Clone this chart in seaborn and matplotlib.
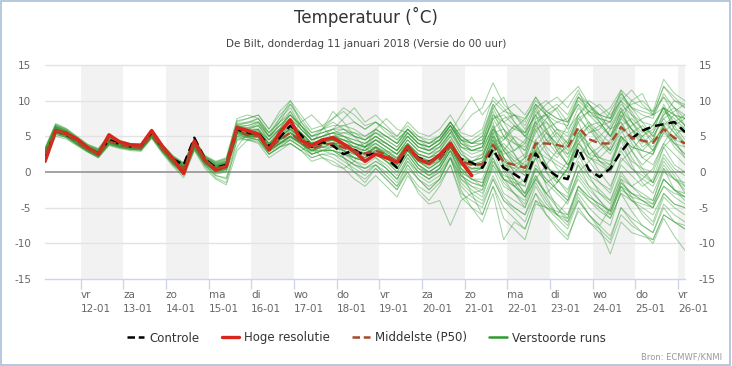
import matplotlib
matplotlib.use("Agg")
import matplotlib.pyplot as plt
from matplotlib.lines import Line2D
from matplotlib.patches import Rectangle
import pandas as pd
import seaborn as sns

# tijden in uren sinds 11-01 00 uur, 6-uurlijkse stappen
uren = [4 + 6 * k for k in range(61)]

dagen = ["vr", "za", "zo", "ma", "di", "wo", "do", "vr", "za", "zo", "ma", "di", "wo", "do", "vr"]
datums = ["12-01", "13-01", "14-01", "15-01", "16-01", "17-01", "18-01", "19-01",
          "20-01", "21-01", "22-01", "23-01", "24-01", "25-01", "26-01"]

# Hoge resolutie (10 dagen)
hres = [1.5, 5.8, 5.4, 4.6, 3.4, 2.5, 5.2, 4.2, 3.8, 3.7, 5.8, 3.6, 1.8, -0.2, 4.3, 1.6, 0.3, 0.8,
        6.2, 5.8, 5.3, 3.1, 5.5, 7.3, 4.4, 3.7, 4.5, 4.8, 3.9, 2.9, 1.5, 2.5, 2.0, 1.4, 3.6, 1.8,
        1.2, 2.4, 4.0, 1.5, -0.5]

controle = [2.0, 5.8, 5.2, 4.4, 3.3, 2.6, 4.5, 3.9, 3.6, 3.6, 5.5, 3.4, 1.8, 1.0, 4.8, 1.8, 0.6, 1.0,
            6.0, 5.4, 5.5, 3.6, 4.8, 6.5, 5.2, 3.5, 4.2, 3.7, 2.5, 3.1, 2.3, 2.6, 2.0, 0.6, 3.4, 2.0,
            1.4, 2.2, 3.8, 1.8, 1.3, 0.6, 3.2, 0.6, -0.3, -1.3, 2.6, 0.5, -0.6, -1.0, 3.3, 0.3,
            -0.7, 0.5, 2.8, 4.7, 5.8, 6.4, 6.7, 7.0, 5.6]

p50 = [2.5, 5.8, 5.3, 4.2, 3.2, 2.5, 4.3, 3.8, 3.5, 3.4, 5.2, 3.2, 1.5, 0.5, 3.8, 1.6, 0.5, 0.8,
       5.8, 5.2, 5.0, 3.2, 4.5, 5.5, 4.2, 3.2, 3.8, 4.0, 3.4, 2.8, 2.6, 3.0, 2.4, 1.5, 3.4, 1.8,
       1.3, 1.8, 3.6, 1.5, 1.0, 1.1, 3.8, 1.4, 1.0, 0.6, 4.0, 4.0, 3.8, 3.4, 6.3, 4.6, 4.0, 4.0,
       6.3, 4.8, 4.4, 4.1, 6.0, 4.8, 4.0]

# verstoorde runs
r01 = [2.8, 6.2, 5.6, 4.5, 3.4, 2.8, 4.6, 4.0, 3.6, 3.5, 5.4, 3.4, 1.8, 0.6, 4.0, 1.9, 0.8, 1.2,
       6.0, 5.6, 5.5, 3.8, 5.0, 6.2, 4.8, 3.5, 4.2, 4.5, 3.8, 3.0, 2.7, 3.4, 2.8, 1.9, 3.9, 2.2, 1.6, 2.4, 4.2, 1.9, 1.4,
       2.5, 5.5, 1.0, 0.5, 2.0, 7.5, 8.0, 5.0, 3.0, 6.0, 2.5, 3.5, 6.0, 9.0, 5.0, 2.0, 1.0, 4.0, 6.5, 7.5]
r02 = [2.2, 5.5, 5.0, 4.0, 3.0, 2.2, 4.0, 3.6, 3.3, 3.2, 5.0, 3.0, 1.2, 0.2, 3.5, 1.2, 0.0, 0.4,
       5.5, 6.0, 6.5, 4.5, 6.0, 8.5, 6.0, 4.5, 5.0, 5.5, 4.0, 3.0, 2.0, 3.5, 2.0, 0.5, 3.0, 1.0, -0.5, 0.5, 3.0, 0.0, -1.0,
       -1.5, 2.0, -1.0, -2.0, -3.5, 0.5, -1.0, -2.5, -4.0, 0.0, -2.0, -3.0, -4.0, -0.5, -2.0, -3.5, -4.5, -1.0, -2.5, -3.5]
r03 = [3.0, 6.5, 5.8, 4.8, 3.6, 3.0, 5.0, 4.2, 3.8, 3.8, 5.6, 3.6, 2.0, 1.0, 4.4, 2.0, 1.2, 1.5,
       6.5, 6.0, 5.0, 3.5, 4.5, 5.5, 4.0, 3.0, 4.0, 5.0, 4.5, 3.5, 4.0, 5.0, 4.0, 3.0, 5.0, 3.5, 3.0, 4.0, 6.0, 3.5, 3.0,
       3.5, 6.0, 7.5, 8.0, 6.0, 9.0, 5.5, 4.0, 6.5, 10.5, 9.5, 7.0, 5.0, 7.5, 10.0, 11.0, 8.0, 9.0, 6.0, 5.5]
r04 = [1.8, 5.2, 4.9, 3.9, 2.9, 2.1, 3.8, 3.4, 3.2, 3.0, 4.8, 2.8, 1.0, -0.5, 3.2, 0.8, -0.8, -1.5,
       4.5, 5.0, 5.5, 3.0, 4.0, 5.0, 4.0, 3.0, 3.5, 3.0, 2.0, 1.0, 0.5, 1.5, 0.5, -1.0, 1.5, 0.0, -1.0, 0.0, 2.0, -0.5, -1.5,
       -2.0, 1.5, -0.5, -1.0, -2.0, 3.0, 2.0, 1.0, 0.0, 4.0, 2.5, 2.0, 1.5, 5.0, 3.5, 3.0, 2.5, 5.5, 4.0, 3.5]
r05 = [2.6, 6.0, 5.4, 4.4, 3.4, 2.6, 4.4, 3.9, 3.5, 3.4, 5.3, 3.3, 1.6, 0.6, 3.9, 1.7, 0.6, 1.0,
       6.2, 5.5, 5.8, 4.5, 7.0, 9.5, 7.0, 5.0, 5.5, 6.0, 5.0, 4.0, 3.5, 4.5, 3.5, 2.5, 4.5, 3.0, 2.5, 3.5, 5.5, 3.0, 2.0,
       2.5, 6.0, 4.5, 6.5, 5.0, 4.0, 1.0, -1.5, 0.5, 4.5, 6.5, 7.0, 5.0, 8.5, 6.0, 3.5, 4.5, 8.0, 9.0, 6.5]
r06 = [2.4, 5.9, 5.2, 4.1, 3.1, 2.4, 4.2, 3.7, 3.4, 3.3, 5.1, 3.1, 1.4, 0.4, 3.6, 1.5, 0.4, 0.7,
       5.6, 5.0, 4.5, 2.5, 3.5, 4.5, 3.5, 2.5, 3.0, 3.5, 3.0, 2.5, 2.0, 3.0, 2.5, 1.5, 3.5, 1.5, 1.0, 1.5, 3.5, 1.0, 0.0,
       0.5, 4.0, 1.5, 0.5, -0.5, 4.5, 6.0, 7.0, 7.5, 10.5, 8.5, 8.0, 7.5, 11.0, 9.0, 8.5, 8.0, 12.0, 10.0, 9.5]
r07 = [2.9, 6.3, 5.7, 4.6, 3.5, 2.9, 4.8, 4.1, 3.7, 3.6, 5.5, 3.5, 1.9, 0.9, 4.2, 1.8, 1.0, 1.3,
       6.4, 6.2, 6.8, 5.0, 7.5, 10.0, 7.0, 5.5, 6.0, 7.0, 6.0, 5.0, 4.5, 5.5, 4.5, 3.5, 5.5, 4.0, 3.5, 4.5, 6.5, 4.0, 3.5,
       4.0, 9.0, 10.5, 7.0, 5.0, 7.0, 3.5, 2.0, 4.0, 8.0, 10.0, 9.0, 7.5, 10.0, 7.0, 4.5, 3.0, 6.0, 4.0, 2.5]
r08 = [2.1, 5.6, 5.1, 4.0, 3.1, 2.3, 4.1, 3.6, 3.4, 3.3, 5.0, 3.0, 1.3, 0.0, 3.4, 1.0, -0.5, -1.0,
       3.5, 5.5, 6.0, 3.0, 4.0, 5.0, 4.0, 2.5, 3.0, 2.5, 1.5, 0.5, -0.5, 1.0, -0.5, -2.0, 1.0, -1.0, -2.5, -1.0, 2.0, -2.0, -3.5,
       -4.5, -1.0, -4.0, -5.5, -7.0, -3.0, -5.0, -6.5, -8.0, -4.0, -6.0, -7.5, -9.0, -5.0, -7.0, -8.5, -10.0, -6.5, -9.0, -11.0]
r09 = [3.2, 6.7, 6.0, 4.9, 3.8, 3.2, 5.1, 4.4, 4.0, 3.9, 5.8, 3.8, 2.2, 1.2, 4.6, 2.2, 1.4, 1.8,
       7.0, 7.5, 8.0, 6.0, 8.5, 10.0, 8.0, 6.0, 6.5, 7.5, 9.0, 8.0, 6.5, 7.0, 6.0, 5.0, 7.0, 5.5, 5.0, 6.0, 8.0, 5.5, 5.0,
       6.0, 10.5, 9.0, 7.0, 5.5, 8.0, 9.5, 10.5, 9.0, 11.5, 8.0, 6.5, 7.0, 10.0, 11.5, 9.5, 8.0, 12.0, 10.5, 9.0]
r10 = [2.3, 5.7, 5.2, 4.1, 3.2, 2.5, 4.2, 3.7, 3.4, 3.4, 5.1, 3.2, 1.5, 0.3, 3.7, 1.4, 0.2, 0.6,
       5.8, 5.0, 5.0, 3.0, 4.5, 5.5, 4.5, 3.5, 4.0, 4.0, 3.0, 2.0, 1.5, 2.5, 1.5, 0.0, 2.5, 0.5, -0.5, 0.5, 3.0, -0.5, -2.0,
       -3.0, 0.5, -3.0, -4.0, -5.0, -1.0, -3.0, -4.5, -6.0, -2.0, -4.0, -5.5, -6.5, -3.0, -4.0, -4.5, -5.0, -2.0, -3.0, -3.5]
r11 = [2.7, 6.1, 5.5, 4.3, 3.3, 2.7, 4.5, 3.9, 3.6, 3.5, 5.3, 3.3, 1.7, 0.7, 4.0, 1.8, 0.7, 1.1,
       6.5, 7.0, 7.5, 5.5, 7.0, 8.0, 6.5, 5.0, 5.5, 6.0, 7.5, 9.0, 7.0, 8.0, 6.5, 5.0, 6.5, 5.0, 4.0, 5.0, 7.0, 5.0, 4.0,
       4.5, 8.5, 5.0, 3.0, 4.0, 9.0, 10.0, 8.5, 6.0, 8.0, 5.5, 6.0, 8.5, 11.0, 9.0, 7.0, 5.0, 7.5, 8.5, 9.5]
r12 = [2.0, 5.4, 4.8, 3.8, 2.8, 2.0, 3.9, 3.4, 3.1, 3.1, 4.9, 2.9, 1.1, -0.2, 3.3, 1.1, -0.2, 0.2,
       5.0, 4.5, 4.0, 2.0, 3.0, 4.0, 3.0, 4.0, 6.0, 8.5, 7.0, 5.0, 3.5, 2.0, 0.5, -1.0, 2.0, 0.0, -1.0, 0.0, 2.5, -1.0, -2.5,
       -3.5, 1.0, -2.0, -3.0, -4.0, 0.5, -1.5, -3.0, -4.5, -0.5, -2.5, -4.0, -5.5, -2.0, -4.0, -5.0, -6.0, -3.0, -4.5, -5.0]
r13 = [2.5, 5.9, 5.4, 4.3, 3.3, 2.6, 4.4, 3.8, 3.5, 3.4, 5.2, 3.2, 1.5, 0.5, 3.8, 1.6, 0.5, 0.8,
       5.9, 5.3, 5.2, 3.5, 5.0, 6.5, 5.0, 4.0, 4.5, 5.0, 4.5, 3.5, 3.5, 4.0, 3.0, 2.0, 4.0, 2.5, 2.0, 2.5, 4.5, 2.0, 1.0,
       1.5, 5.0, 0.5, -2.0, -1.0, 3.5, 5.5, 4.0, 2.0, 5.0, 6.5, 5.0, 3.0, 6.0, 3.0, 1.0, 2.5, 6.5, 4.5, 2.0]
r14 = [3.4, 6.8, 6.1, 5.0, 3.9, 3.3, 5.2, 4.4, 4.0, 4.0, 5.9, 3.9, 2.3, 1.3, 4.7, 2.3, 1.5, 2.0,
       7.5, 8.0, 7.5, 5.0, 6.5, 7.5, 6.0, 4.5, 5.0, 5.5, 6.0, 5.5, 4.5, 6.0, 5.0, 4.0, 6.0, 4.5, 4.0, 5.0, 7.0, 4.5, 4.0,
       5.0, 9.5, 7.0, 6.0, 5.5, 9.5, 8.0, 7.0, 6.5, 10.0, 8.5, 7.5, 7.0, 10.5, 9.0, 8.0, 7.5, 11.0, 9.0, 8.0]
r15 = [1.6, 5.0, 4.6, 3.7, 2.8, 2.0, 3.7, 3.3, 3.0, 2.9, 4.7, 2.6, 0.8, -0.8, 3.0, 0.5, -1.0, -1.8,
       3.0, 4.5, 5.0, 2.5, 3.5, 4.0, 3.0, 1.5, 2.0, 1.5, 0.5, -1.0, -2.0, -0.5, -2.0, -3.5, -0.5, -2.5, -4.0, -2.0, 1.0, -3.5, -5.0,
       -6.0, -2.0, -5.0, -6.5, -8.0, -4.0, -6.0, -7.5, -9.0, -5.5, -7.0, -8.0, -9.5, -5.0, -6.5, -7.5, -8.5, -4.5, -6.0, -7.0]
r16 = [2.6, 6.1, 5.5, 4.4, 3.3, 2.6, 4.3, 3.9, 3.5, 3.4, 5.3, 3.3, 1.6, 0.6, 3.9, 1.7, 0.6, 0.9,
       6.0, 5.2, 5.0, 3.5, 4.5, 5.5, 4.5, 3.5, 4.0, 4.0, 4.0, 3.5, 3.0, 4.0, 3.0, 2.5, 4.0, 2.5, 2.0, 3.0, 5.0, 2.5, 1.5,
       2.0, 5.5, 6.0, 4.5, 2.0, 3.0, 0.0, -2.5, -4.0, -1.0, -3.0, -5.0, -6.5, -3.0, -5.5, -7.5, -8.5, -5.0, -7.0, -8.0]
r17 = [2.8, 6.2, 5.6, 4.5, 3.5, 2.8, 4.6, 4.0, 3.7, 3.6, 5.5, 3.4, 1.8, 0.8, 4.1, 1.9, 0.9, 1.2,
       6.2, 5.8, 6.0, 4.0, 5.5, 7.0, 5.5, 4.0, 4.5, 4.5, 3.5, 2.5, 2.0, 3.0, 2.0, 0.5, 3.0, 1.0, 0.0, 1.0, 3.5, 0.5, -0.5,
       0.0, 3.5, 4.5, 6.0, 7.5, 9.5, 8.0, 6.0, 5.0, 8.0, 9.5, 8.0, 6.0, 7.0, 4.5, 3.0, 4.5, 8.5, 7.5, 6.0]
r18 = [2.2, 5.6, 5.0, 4.0, 3.0, 2.3, 4.1, 3.6, 3.3, 3.2, 5.0, 3.0, 1.3, 0.1, 3.5, 1.3, 0.1, 0.4,
       5.3, 4.8, 4.5, 3.0, 4.0, 5.0, 4.0, 3.0, 3.5, 4.0, 3.5, 3.0, 2.5, 3.5, 2.5, 1.5, 3.5, 2.0, 1.5, 2.0, 4.0, 1.5, 0.5,
       0.5, 4.5, 1.5, -1.0, -3.0, -0.5, -3.5, -6.0, -4.0, 0.0, 1.5, 3.0, 4.5, 8.0, 6.0, 4.5, 3.5, 7.0, 5.5, 4.0]
r19 = [3.0, 6.4, 5.8, 4.7, 3.6, 3.0, 4.9, 4.2, 3.8, 3.7, 5.6, 3.6, 2.0, 1.0, 4.3, 2.0, 1.1, 1.5,
       6.6, 6.5, 7.0, 5.5, 7.5, 9.0, 6.5, 4.5, 5.0, 5.5, 5.0, 4.5, 4.0, 5.0, 4.0, 3.0, 5.0, 3.5, 3.0, 4.0, 6.5, 4.0, 3.0,
       3.5, 8.0, 6.0, 2.5, 0.0, 3.0, 4.5, 6.0, 4.0, 7.0, 3.5, 1.5, 0.5, 4.5, 1.0, -1.5, -3.0, 0.5, -2.5, -4.0]
r20 = [2.4, 5.8, 5.2, 4.2, 3.2, 2.4, 4.2, 3.7, 3.4, 3.3, 5.1, 3.1, 1.4, 0.4, 3.7, 1.5, 0.4, 0.7,
       5.7, 5.2, 5.3, 3.5, 5.0, 6.0, 5.0, 3.5, 4.0, 4.5, 4.0, 3.0, 2.5, 3.5, 2.5, 1.0, 3.0, 1.5, 0.5, 1.5, 4.0, 1.0, 0.0,
       0.5, 4.0, 2.5, 3.0, 4.5, 8.0, 6.0, 3.5, 1.0, 3.0, 0.5, -1.5, -3.0, 1.0, -0.5, -2.0, -1.0, 3.5, 5.0, 6.5]
r21 = [2.7, 6.0, 5.4, 4.4, 3.4, 2.7, 4.5, 3.9, 3.6, 3.5, 5.4, 3.4, 1.7, 0.7, 4.0, 1.8, 0.7, 1.0,
       6.2, 5.8, 5.5, 4.0, 6.0, 8.0, 6.0, 4.5, 5.0, 5.5, 5.5, 5.0, 4.5, 5.5, 4.5, 3.5, 5.5, 4.0, 3.5, 4.5, 6.5, 4.5, 4.5,
       5.5, 9.5, 7.0, 4.5, 3.0, 6.5, 8.5, 9.5, 8.0, 11.0, 9.5, 8.0, 9.0, 11.5, 8.0, 6.0, 5.5, 8.0, 10.0, 9.0]
r22 = [2.1, 5.5, 5.0, 3.9, 2.9, 2.2, 4.0, 3.5, 3.2, 3.1, 4.9, 2.9, 1.2, 0.0, 3.4, 1.2, 0.0, 0.3,
       5.0, 4.8, 5.0, 3.0, 4.0, 5.0, 7.0, 8.0, 6.5, 4.5, 2.0, 0.0, -1.5, 0.5, -1.0, -2.5, 0.5, -1.0, -2.5, -1.0, 2.0, -1.5, -3.0,
       -4.0, -0.5, -3.5, -5.0, -6.0, -2.0, -4.5, -6.0, -7.0, -3.0, -5.0, -6.5, -7.5, -2.5, -3.5, -4.0, -4.5, -1.0, -2.5, -3.0]
r23 = [2.9, 6.3, 5.7, 4.6, 3.5, 2.8, 4.7, 4.0, 3.7, 3.6, 5.5, 3.5, 1.8, 0.8, 4.1, 1.9, 0.9, 1.3,
       6.3, 6.0, 6.0, 4.5, 6.0, 7.5, 6.0, 4.5, 5.0, 6.0, 6.0, 5.0, 4.5, 5.5, 5.0, 4.0, 6.0, 4.5, 4.0, 5.0, 7.0, 4.5, 4.0,
       4.5, 8.0, 7.0, 8.0, 6.5, 9.5, 6.0, 3.0, 1.0, 2.5, -0.5, -3.0, -4.5, -1.0, -2.0, -1.0, 0.5, 4.0, 2.5, 1.0]
r24 = [2.5, 5.9, 5.3, 4.2, 3.2, 2.5, 4.3, 3.8, 3.5, 3.4, 5.2, 3.2, 1.5, 0.5, 3.8, 1.6, 0.5, 0.8,
       5.8, 5.2, 5.0, 3.2, 4.5, 5.5, 4.2, 3.2, 3.8, 4.0, 3.4, 2.8, 2.6, 3.0, 2.4, 1.5, 3.4, 1.8, 1.3, 1.8, 3.6, 1.5, 1.0,
       1.0, 3.5, 0.0, -2.0, -3.5, -1.0, 1.0, 3.0, 4.5, 7.5, 6.0, 4.0, 3.0, 6.5, 7.5, 6.0, 4.5, 6.0, 3.5, 2.0]
r25 = [3.1, 6.5, 5.9, 4.8, 3.7, 3.1, 5.0, 4.3, 3.9, 3.8, 5.7, 3.7, 2.1, 1.1, 4.5, 2.1, 1.3, 1.7,
       6.8, 7.0, 7.0, 5.0, 6.0, 6.5, 5.5, 4.0, 4.5, 5.0, 4.5, 4.0, 3.5, 4.5, 3.5, 2.5, 4.5, 3.0, 2.5, 3.5, 5.5, 6.0, 8.0,
       9.0, 12.5, 9.5, 8.0, 7.0, 10.5, 8.5, 7.5, 7.0, 10.5, 9.0, 8.0, 7.5, 11.5, 10.0, 9.0, 8.5, 13.0, 11.0, 10.0]
r26 = [2.3, 5.7, 5.1, 4.1, 3.1, 2.4, 4.1, 3.7, 3.4, 3.3, 5.1, 3.1, 1.4, 0.3, 3.6, 1.4, 0.3, 0.6,
       5.5, 5.0, 5.2, 3.5, 4.5, 5.0, 4.0, 3.0, 3.0, 3.0, 2.5, 2.0, 1.5, 2.5, 1.5, 0.5, 2.5, 0.5, -0.5, 0.5, 3.0, -0.5, -1.5,
       -2.0, 2.5, 3.0, 5.0, 4.0, 7.0, 5.5, 3.0, 1.0, 4.0, 5.5, 6.5, 5.0, 8.5, 7.0, 5.0, 3.0, 5.5, 7.0, 8.0]
r27 = [2.6, 6.0, 5.4, 4.3, 3.3, 2.6, 4.4, 3.8, 3.5, 3.5, 5.3, 3.3, 1.6, 0.6, 3.9, 1.7, 0.6, 0.9,
       6.1, 5.6, 5.8, 4.0, 5.5, 6.5, 5.0, 3.5, 4.0, 4.5, 4.5, 4.0, 3.5, 4.5, 3.5, 2.5, 4.5, 3.0, 2.5, 3.0, 5.0, 2.5, 1.5,
       2.0, 6.0, 3.0, 1.0, -0.5, 2.0, -2.0, -5.0, -7.0, -4.0, -6.0, -7.5, -5.0, -1.0, -3.5, -6.0, -7.5, -3.5, -5.0, -6.0]
r28 = [1.9, 5.3, 4.8, 3.8, 2.9, 2.1, 3.9, 3.5, 3.2, 3.1, 4.9, 2.8, 1.0, -0.3, 3.1, 0.9, -0.5, -0.8,
       4.5, 4.5, 4.5, 2.5, 3.5, 4.5, 3.5, 2.0, 2.5, 2.0, 1.0, 0.0, -1.0, 0.5, -1.0, -2.5, 0.0, -2.0, -3.0, -1.5, 1.0, -3.0, -4.0,
       -5.0, -1.0, -4.0, -5.0, -6.0, -3.0, -6.0, -8.0, -9.5, -5.0, -7.0, -8.5, -10.0, -6.0, -7.5, -8.5, -9.5, -6.0, -7.0, -8.0]
r29 = [2.8, 6.2, 5.6, 4.5, 3.4, 2.8, 4.6, 4.0, 3.6, 3.6, 5.4, 3.4, 1.8, 0.7, 4.0, 1.8, 0.8, 1.1,
       6.1, 5.5, 5.2, 3.5, 5.5, 7.0, 5.5, 4.0, 4.5, 5.0, 4.0, 3.0, 2.5, 3.5, 2.5, 1.0, 3.5, 1.5, 0.5, 1.5, 4.0, 0.5, -1.0,
       -2.0, 3.0, -1.0, -3.0, -5.0, -1.5, -4.0, -6.0, -7.5, -3.5, -6.0, -8.0, -11.5, -7.0, -8.5, -9.0, -9.5, -6.0, -7.0, -7.5]
r30 = [2.4, 5.8, 5.3, 4.2, 3.2, 2.5, 4.3, 3.8, 3.4, 3.3, 5.2, 3.2, 1.5, 0.4, 3.8, 1.5, 0.5, 0.8,
       5.8, 5.3, 5.3, 3.5, 5.0, 6.0, 4.5, 3.5, 4.0, 4.0, 3.5, 3.0, 2.5, 3.5, 2.5, 1.5, 3.5, 2.0, 1.5, 2.0, 4.0, 0.0, -3.0,
       -6.0, -2.0, -6.5, -8.0, -9.5, -4.5, -5.0, -5.5, -6.0, -2.0, -3.5, -4.5, -5.5, -1.5, -3.0, -4.0, -5.0, -2.0, -3.5, -4.5]
r31 = [2.7, 6.1, 5.5, 4.4, 3.3, 2.7, 4.5, 3.9, 3.6, 3.5, 5.3, 3.3, 1.7, 0.6, 4.0, 1.7, 0.7, 1.0,
       6.0, 5.5, 5.5, 4.0, 5.0, 6.0, 5.0, 4.0, 4.5, 5.0, 5.0, 4.5, 4.0, 5.0, 4.0, 3.0, 5.0, 3.5, 3.0, 3.5, 5.5, 8.0, 10.5,
       8.0, 10.0, 8.5, 8.0, 7.5, 10.0, 8.5, 7.5, 7.0, 9.5, 8.0, 7.5, 7.0, 9.5, 8.0, 7.0, 6.5, 9.0, 8.0, 7.5]
r32 = [2.2, 5.6, 5.1, 4.0, 3.0, 2.3, 4.1, 3.6, 3.3, 3.2, 5.0, 3.0, 1.3, 0.2, 3.5, 1.3, 0.1, 0.5,
       5.4, 5.0, 5.0, 3.0, 4.0, 4.5, 3.5, 2.5, 3.0, 3.0, 2.5, 2.0, 1.5, 2.5, 1.5, 0.0, 2.5, 0.5, 0.0, 1.0, 3.5, 1.5, 1.0,
       1.5, 5.0, 2.0, 0.0, 1.5, 6.0, 7.0, 5.5, 3.5, 5.5, 2.5, 0.0, -2.0, 1.5, 3.0, 5.0, 6.0, 9.0, 8.0, 6.5]
r33 = [3.3, 6.6, 6.0, 4.9, 3.8, 3.2, 5.1, 4.3, 3.9, 3.9, 5.8, 3.8, 2.2, 1.2, 4.6, 2.2, 1.4, 1.9,
       7.2, 7.5, 8.0, 6.0, 8.0, 9.5, 7.5, 5.5, 6.0, 6.5, 6.5, 6.0, 5.0, 6.0, 5.0, 4.0, 6.0, 4.5, 4.0, 4.5, 6.5, 4.0, 3.0,
       3.5, 7.5, 8.5, 9.5, 8.0, 10.5, 8.0, 6.0, 5.5, 9.0, 7.0, 4.5, 3.0, 5.5, 6.5, 7.5, 8.0, 10.5, 9.0, 7.5]
r34 = [2.0, 5.5, 4.9, 3.9, 2.9, 2.1, 3.9, 3.5, 3.2, 3.1, 4.9, 2.9, 1.1, -0.1, 3.3, 1.0, -0.3, 0.0,
       4.8, 4.5, 4.2, 2.5, 3.5, 4.0, 3.0, 2.0, 2.5, 2.5, 2.0, 1.0, 0.5, 1.5, 0.5, -1.0, 1.5, -0.5, -1.5, -0.5, 2.0, -1.0, -2.0,
       -2.5, 1.0, -1.0, -1.5, -2.0, 2.0, 0.5, 0.0, -0.5, 3.5, 2.0, 1.5, 1.0, 5.0, 3.5, 3.0, 2.5, 6.5, 4.5, 4.0]
r35 = [2.9, 6.4, 5.7, 4.6, 3.5, 2.9, 4.8, 4.1, 3.7, 3.6, 5.6, 3.5, 1.9, 0.9, 4.2, 1.9, 1.0, 1.4,
       6.4, 6.0, 6.5, 5.0, 6.5, 8.0, 6.5, 5.0, 5.5, 6.0, 6.5, 7.0, 6.0, 7.0, 6.0, 4.5, 6.0, 4.5, 3.5, 4.5, 6.5, 4.5, 3.5,
       4.0, 7.0, 2.0, -1.0, -3.0, 0.5, -1.5, -0.5, 1.5, 5.5, 7.0, 5.5, 4.0, 8.0, 6.0, 4.0, 5.5, 9.5, 6.5, 4.5]
r36 = [2.5, 5.8, 5.2, 4.2, 3.2, 2.5, 4.3, 3.8, 3.5, 3.4, 5.2, 3.2, 1.5, 0.5, 3.8, 1.6, 0.5, 0.8,
       5.7, 5.0, 4.8, 3.0, 4.0, 5.0, 4.0, 3.0, 3.5, 4.0, 4.0, 3.5, 3.0, 4.5, 3.5, 2.5, 4.0, 2.5, 2.0, 3.0, 5.5, 3.5, 3.0,
       3.5, 7.5, 8.0, 6.5, 5.5, 8.0, 4.5, 2.5, 3.5, 7.0, 8.5, 9.5, 8.0, 10.0, 8.5, 6.0, 4.0, 6.5, 4.0, 2.5]
r37 = [2.6, 6.0, 5.4, 4.3, 3.3, 2.6, 4.4, 3.9, 3.5, 3.4, 5.3, 3.3, 1.6, 0.5, 3.9, 1.6, 0.5, 0.9,
       5.9, 5.4, 5.5, 3.5, 4.5, 5.5, 4.5, 3.5, 4.0, 4.0, 3.0, 2.0, 1.5, 2.5, 1.5, 0.5, 3.0, 1.0, 0.0, 1.0, 3.5, 0.5, -1.0,
       -1.5, 2.0, -1.5, -3.0, -4.5, -0.5, -3.0, -5.0, -6.5, -2.5, -4.0, -5.0, -6.0, -2.0, -3.0, -3.5, -4.0, 0.0, -1.0, -1.5]
r38 = [3.0, 6.3, 5.7, 4.6, 3.6, 3.0, 4.8, 4.1, 3.7, 3.7, 5.6, 3.6, 2.0, 1.0, 4.3, 2.0, 1.1, 1.4,
       6.5, 6.2, 6.5, 4.5, 6.0, 7.0, 5.5, 4.0, 4.5, 5.0, 4.5, 4.0, 3.5, 4.5, 4.0, 3.0, 5.0, 3.5, 3.0, 4.0, 6.0, 3.5, 2.5,
       3.0, 6.5, 3.0, 1.0, 2.0, 5.5, 7.5, 9.0, 7.0, 9.5, 6.5, 4.0, 2.5, 5.0, 2.0, 0.0, -1.5, 2.0, 0.0, -2.0]
r39 = [2.3, 5.7, 5.1, 4.1, 3.1, 2.4, 4.2, 3.7, 3.4, 3.3, 5.1, 3.1, 1.4, 0.3, 3.7, 1.4, 0.3, 0.6,
       5.6, 5.0, 5.0, 3.2, 4.2, 5.0, 4.0, 3.0, 3.5, 3.5, 3.0, 2.0, 1.5, 2.5, 2.0, 1.0, 3.0, 1.5, 0.5, 1.5, 4.0, 1.5, 0.5,
       0.5, 4.5, 1.0, -1.5, -3.5, -1.0, -3.0, -1.5, 0.5, 5.0, 3.5, 2.0, 1.0, 4.5, 5.5, 6.5, 5.0, 7.5, 5.5, 3.5]
r40 = [2.8, 6.1, 5.5, 4.5, 3.4, 2.8, 4.6, 4.0, 3.6, 3.6, 5.4, 3.4, 1.8, 0.8, 4.1, 1.8, 0.8, 1.2,
       6.3, 5.8, 6.0, 4.0, 5.0, 6.0, 5.0, 3.5, 2.0, 1.0, 0.5, 1.5, 3.5, 6.0, 7.5, 6.0, 5.5, 4.0, 3.0, 4.0, 6.0, 3.0, 1.0,
       1.0, 4.5, 2.0, 1.0, 0.0, 3.5, 1.0, -1.0, -2.5, 1.0, -1.0, -2.5, -4.0, 0.0, -2.0, -3.0, -4.0, 0.5, -1.0, -2.0]
r41 = [2.1, 5.5, 5.0, 4.0, 3.0, 2.3, 4.0, 3.6, 3.3, 3.2, 5.0, 3.0, 1.2, 0.1, 3.4, 1.2, 0.0, 0.4,
       5.2, 4.8, 4.5, 2.8, 3.8, 4.8, 3.8, 2.8, 3.2, 3.0, 2.5, 1.5, 1.0, 2.0, 1.0, -0.5, 2.0, 0.0, -1.0, 0.5, 3.0, 0.0, -1.0,
       -1.0, 3.0, 4.0, 2.5, 0.5, 3.0, 0.0, -1.5, 0.5, 5.5, 4.0, 2.0, 3.5, 7.5, 6.0, 5.0, 6.5, 9.0, 7.0, 5.5]
r42 = [2.7, 6.2, 5.6, 4.5, 3.4, 2.7, 4.5, 4.0, 3.6, 3.5, 5.4, 3.4, 1.7, 0.7, 4.0, 1.8, 0.7, 1.1,
       6.2, 5.7, 5.6, 4.0, 5.5, 7.0, 5.5, 4.0, 4.5, 5.0, 5.5, 5.5, 5.0, 6.0, 5.0, 4.0, 5.5, 4.0, 3.5, 4.5, 6.5, 4.5, 3.0,
       3.0, 6.5, 3.5, 2.0, 1.0, 4.5, 2.5, 1.5, 0.5, 4.0, 2.0, 1.0, 0.0, 3.5, 1.5, 0.5, 0.0, 3.5, 1.0, 0.0]
r43 = [2.4, 5.8, 5.2, 4.1, 3.1, 2.4, 4.2, 3.7, 3.4, 3.3, 5.1, 3.1, 1.4, 0.4, 3.6, 1.5, 0.4, 0.7,
       5.6, 5.1, 5.0, 3.2, 4.6, 5.8, 4.5, 3.4, 3.8, 4.2, 3.6, 2.8, 2.3, 3.3, 2.3, 1.2, 3.3, 1.5, 0.8, 1.8, 3.8, 1.2, 0.3,
       0.8, 4.0, 5.0, 6.5, 5.0, 8.5, 7.0, 4.5, 2.5, 4.5, 1.5, -0.5, 1.0, 5.0, 3.0, 0.5, -1.5, 1.5, -0.5, -3.0]
r44 = [3.1, 6.5, 5.8, 4.7, 3.7, 3.1, 4.9, 4.2, 3.8, 3.8, 5.7, 3.7, 2.1, 1.1, 4.4, 2.1, 1.2, 1.6,
       6.7, 6.8, 7.5, 5.5, 7.0, 8.5, 6.5, 4.5, 5.0, 5.5, 5.0, 4.0, 3.5, 5.0, 4.0, 3.0, 5.5, 4.0, 3.5, 4.5, 7.0, 5.0, 4.0,
       5.0, 9.0, 6.0, 4.0, 3.5, 7.0, 8.0, 9.0, 10.5, 12.0, 9.5, 7.5, 6.0, 8.5, 9.5, 10.0, 8.5, 10.5, 8.0, 6.5]
r45 = [2.2, 5.6, 5.0, 4.0, 3.0, 2.3, 4.1, 3.6, 3.3, 3.2, 5.0, 3.0, 1.3, 0.2, 3.5, 1.2, 0.1, 0.4,
       5.3, 4.9, 5.0, 3.0, 4.0, 5.0, 4.0, 2.5, 3.0, 3.0, 2.0, 1.0, 0.0, 1.0, 0.0, -1.5, 1.0, -1.0, -2.0, -1.0, 2.0, -2.5, -5.0,
       -7.0, -3.0, -9.5, -7.0, -8.0, -4.0, -5.0, -6.0, -6.5, -2.0, -3.5, -4.5, -5.5, -1.5, -3.0, -4.0, -5.0, -1.0, -2.5, -3.5]
r46 = [2.6, 6.0, 5.4, 4.3, 3.3, 2.6, 4.4, 3.8, 3.5, 3.4, 5.2, 3.2, 1.6, 0.6, 3.9, 1.6, 0.6, 0.9,
       5.9, 5.3, 5.0, 3.3, 4.5, 5.5, 4.5, 3.5, 4.0, 4.0, 3.0, 1.5, 0.5, 1.0, -0.5, -2.0, 0.0, -3.0, -4.5, -4.0, -7.5, -4.0, -3.0,
       -2.5, 1.5, -1.0, -2.0, -3.0, 1.0, -1.0, -2.5, -3.5, 1.5, -0.5, -1.5, -2.5, 2.0, 0.5, -0.5, -1.5, 2.5, 0.5, -0.5]
r47 = [2.9, 6.3, 5.6, 4.5, 3.5, 2.9, 4.7, 4.1, 3.7, 3.6, 5.5, 3.5, 1.9, 0.9, 4.2, 1.9, 0.9, 1.3,
       6.3, 6.5, 7.0, 5.0, 6.5, 8.0, 6.5, 5.0, 6.0, 7.5, 8.5, 7.0, 6.0, 7.0, 5.5, 4.5, 6.0, 5.0, 4.5, 5.0, 7.0, 5.0, 4.0,
       4.0, 7.5, 5.0, 4.0, 3.0, 6.5, 4.5, 3.5, 2.5, 6.0, 3.5, 1.5, 0.0, 3.0, 0.5, -1.0, -2.0, 1.0, -1.0, -2.5]
r48 = [2.3, 5.7, 5.1, 4.1, 3.1, 2.4, 4.2, 3.7, 3.4, 3.3, 5.1, 3.1, 1.4, 0.4, 3.7, 1.5, 0.3, 0.7,
       5.6, 5.0, 5.0, 3.0, 4.0, 5.0, 4.0, 3.0, 3.5, 3.5, 3.0, 2.5, 2.0, 3.0, 2.0, 1.0, 3.0, 1.0, 0.0, 1.0, 3.0, 1.0, 0.5,
       1.0, 5.5, 2.0, 0.0, -1.5, 2.0, 4.0, 5.5, 4.0, 7.5, 8.5, 7.0, 5.0, 7.0, 4.0, 2.0, 3.0, 6.5, 8.0, 7.5]
r49 = [2.8, 6.2, 5.6, 4.5, 3.4, 2.8, 4.6, 4.0, 3.6, 3.6, 5.5, 3.4, 1.8, 0.8, 4.1, 1.8, 0.8, 1.2,
       6.2, 5.8, 5.5, 3.8, 5.2, 6.5, 5.0, 3.8, 4.2, 4.5, 4.0, 3.5, 3.0, 4.0, 3.0, 2.0, 4.0, 2.5, 2.0, 2.5, 4.5, 2.0, 1.5,
       2.0, 6.0, 3.0, 1.5, 0.5, 4.0, 1.0, -1.0, -3.0, 1.0, -2.0, -4.0, -6.0, -2.0, -4.0, -5.5, -7.0, -3.0, -4.5, -5.0]
r50 = [2.5, 5.9, 5.3, 4.2, 3.2, 2.5, 4.3, 3.8, 3.5, 3.4, 5.2, 3.2, 1.5, 0.5, 3.8, 1.6, 0.5, 0.8,
       5.8, 5.2, 5.2, 3.5, 4.8, 6.0, 4.8, 3.6, 4.2, 4.5, 4.0, 3.2, 3.0, 3.6, 2.8, 1.8, 3.8, 2.2, 1.6, 2.2, 4.2, 1.8, 1.0,
       1.0, 5.0, 3.5, 1.5, 2.5, 6.0, 3.0, 0.5, -1.0, 2.0, 4.0, 5.0, 6.5, 9.0, 7.0, 5.5, 6.5, 9.0, 6.0, 4.0]

runs = [r01, r02, r03, r04, r05, r06, r07, r08, r09, r10, r11, r12, r13, r14, r15, r16, r17,
        r18, r19, r20, r21, r22, r23, r24, r25, r26, r27, r28, r29, r30, r31, r32, r33, r34,
        r35, r36, r37, r38, r39, r40, r41, r42, r43, r44, r45, r46, r47, r48, r49, r50]

for i, r in enumerate(runs):
    assert len(r) == len(uren), (i + 1, len(r))

# long format voor seaborn
rows = []
for i, r in enumerate(runs):
    for u, t in zip(uren, r):
        rows.append((i, u, t))
df_runs = pd.DataFrame(rows, columns=["run", "uur", "temp"])

sns.set_theme(style="white")
plt.rcParams["font.family"] = ["DejaVu Sans"]

fig = plt.figure(figsize=(7.32, 3.66), dpi=100)
ax = fig.add_axes([45 / 732, 1 - 279 / 366, 640 / 732, 214 / 366])

# grijze banden om de dag
for d in range(1, 16, 2):
    ax.axvspan(24 * d, min(24 * d + 24, 364), color="#f2f2f2", lw=0, zorder=0)

for v in [-10, -5, 5, 10, 15]:
    ax.axhline(v, color="#e3e3e3", lw=1, zorder=1, clip_on=False)
ax.axhline(0, color="#8a8a8a", lw=1.1, zorder=1)

sns.lineplot(data=df_runs, x="uur", y="temp", units="run", estimator=None,
             color="#3a9e3a", alpha=0.45, lw=0.75, ax=ax, legend=False, zorder=2)
sns.lineplot(x=uren, y=controle, color="black", lw=1.8, linestyle=(0, (3.5, 2)),
             ax=ax, zorder=3)
sns.lineplot(x=uren[:len(hres)], y=hres, color="#d8261c", lw=2.6, ax=ax, zorder=4)
sns.lineplot(x=uren, y=p50, color="#a9482a", lw=1.7, linestyle=(0, (3.5, 2)),
             ax=ax, zorder=5)

ax.set_xlim(4, 364)
ax.set_ylim(-15, 15)
ax.set_xlabel("")
ax.set_ylabel("")

for s in ["top", "left", "right"]:
    ax.spines[s].set_visible(False)
ax.spines["bottom"].set_color("#ccd6eb")
ax.spines["bottom"].set_linewidth(1)

ax.set_xticks([24 * d for d in range(1, 16)])
ax.set_xticklabels([f"{a}\n{b}" for a, b in zip(dagen, datums)], ha="left",
                   fontsize=7.5, color="#666666", linespacing=1.45)
ax.tick_params(axis="x", length=7, width=1, color="#ccd6eb", pad=1, bottom=True)

yt = list(range(-15, 16, 5))
ax.set_yticks(yt)
ax.set_yticklabels([str(v) for v in yt], fontsize=7.5, color="#666666")
ax.tick_params(axis="y", length=0, labelleft=True, labelright=True, pad=10)

fig.text(0.5, 1 - 17 / 366, "Temperatuur (˚C)", ha="center", va="center",
         fontsize=12, color="#333333")
fig.text(0.5, 1 - 44 / 366, "De Bilt, donderdag 11 januari 2018 (Versie do 00 uur)",
         ha="center", va="center", fontsize=7.5, color="#444444")

handles = [Line2D([], [], color="black", lw=1.8, linestyle=(0, (3, 1.5))),
           Line2D([], [], color="#d8261c", lw=2.4),
           Line2D([], [], color="#a9482a", lw=1.8, linestyle=(0, (3, 1.5))),
           Line2D([], [], color="#2f9a2f", lw=1.8)]
labels = ["Controle", "Hoge resolutie", "Middelste (P50)", "Verstoorde runs"]
fig.legend(handles, labels, loc="center", bbox_to_anchor=(0.5, 1 - 338 / 366), ncol=4,
           frameon=False, fontsize=8.5, handlelength=1.5, handletextpad=0.4,
           columnspacing=1.9, labelcolor="#333333")

fig.text(722 / 732, 1 - 357 / 366, "Bron: ECMWF/KNMI", ha="right", va="center",
         fontsize=6, color="#999999")

fig.patches.append(Rectangle((0.002, 0.003), 0.995, 0.994, transform=fig.transFigure,
                             fill=False, edgecolor="#a9bfd6", lw=1.2))

fig.savefig("out.png", dpi=100)
